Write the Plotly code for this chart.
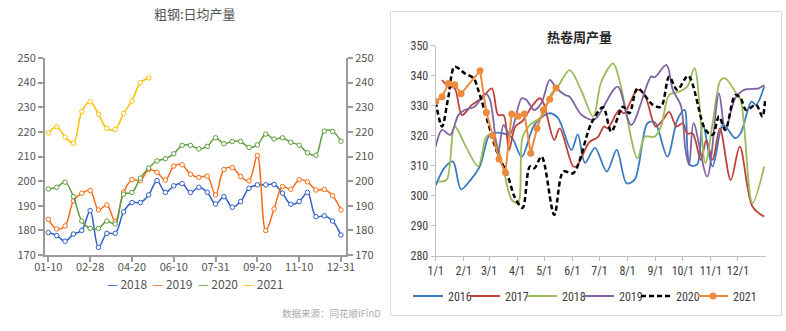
import plotly.graph_objects as go

# ---------------- Left chart data: 粗钢 日均产量 (dekad) ----------------
dekads = ["01-10", "01-20", "01-31", "02-10", "02-20", "02-28", "03-10", "03-20", "03-31",
          "04-10", "04-20", "04-30", "05-10", "05-20", "05-31", "06-10", "06-20", "06-30",
          "07-10", "07-20", "07-31", "08-10", "08-20", "08-31", "09-10", "09-20", "09-30",
          "10-10", "10-20", "10-31", "11-10", "11-20", "11-30", "12-10", "12-20", "12-31"]
left_ticks = ["01-10", "02-28", "04-20", "06-10", "07-31", "09-20", "11-10", "12-31"]

cs_2018 = [179.1, 177.9, 175.6, 178.5, 180.0, 188.0, 173.1, 178.8, 178.8, 187.5, 191.3, 191.3,
           194.4, 200.2, 195.4, 198.1, 199.0, 195.4, 197.5, 195.5, 190.7, 193.7, 189.4, 191.7,
           197.1, 198.5, 198.5, 198.7, 195.1, 190.6, 191.7, 195.4, 185.6, 185.9, 183.8, 178.1]
cs_2019 = [184.5, 180.6, 181.8, 192.0, 195.1, 196.2, 188.3, 190.3, 183.6, 195.5, 200.6, 200.2,
           204.7, 203.6, 200.4, 206.1, 206.6, 202.8, 201.5, 202.0, 194.4, 204.7, 205.5, 201.9,
           200.1, 210.4, 179.9, 188.7, 197.8, 196.7, 200.6, 199.7, 196.4, 196.6, 194.1, 188.3]
cs_2020 = [196.8, 197.5, 199.6, 193.7, 183.8, 180.8, 180.8, 183.8, 182.6, 194.7, 195.4, 201.2,
           205.3, 208.2, 209.1, 211.1, 214.5, 214.5, 213.1, 214.1, 217.6, 215.2, 216.1, 216.1,
           213.7, 214.7, 219.1, 217.1, 217.6, 215.8, 214.6, 211.5, 210.5, 220.3, 220.2, 216.2]
cs_2021 = [219.6, 222.1, 217.9, 215.4, 228.3, 232.2, 227.2, 221.4, 221.0, 227.5, 232.6, 240.0, 241.9]

left_names = ["2018", "2019", "2020", "2021"]
left_values = [cs_2018, cs_2019, cs_2020, cs_2021]
left_colors = ["#2f5fc4", "#f76b15", "#5f9e3f", "#ffc000"]

# ---------------- Right chart data: 热卷周产量 (weekly) ----------------
d2016 = ["01-01", "01-11", "01-20", "01-29", "02-09", "02-19", "03-02", "03-13", "03-26", "04-06",
         "04-20", "05-06", "05-16", "05-31", "06-07", "06-15", "06-26", "07-09", "07-20", "07-31",
         "08-09", "08-23", "08-31", "09-14", "09-25", "10-03", "10-09", "10-17", "10-23", "11-03",
         "11-14", "11-19", "11-28", "12-04", "12-16", "12-21", "12-30"]
v2016 = [303.5, 309.5, 311.5, 302.2, 305.5, 310.0, 320.5, 321.0, 319.5, 313.0,
         323.6, 327.5, 326.0, 315.3, 320.5, 311.0, 316.0, 308.1, 315.3, 304.2,
         305.5, 324.2, 324.5, 313.1, 325.3, 328.6, 310.3, 310.5, 324.2, 309.8,
         323.6, 322.5, 319.2, 320.9, 331.4, 330.3, 336.4]

d2017 = ["01-08", "01-15", "01-22", "01-30", "02-10", "02-21", "03-04", "03-11", "03-17", "03-23",
         "03-30", "04-07", "04-17", "04-26", "04-30", "05-12", "05-18", "06-02", "06-06", "06-20",
         "06-29", "07-06", "07-10", "07-23", "07-28", "08-12", "08-20", "09-01", "09-09", "09-16",
         "09-24", "10-01", "10-06", "10-12", "10-21", "10-27", "11-03", "11-11", "11-23", "12-03",
         "12-17", "12-30"]
v2017 = [338.6, 336.4, 335.8, 326.9, 330.3, 332.5, 335.8, 326.9, 326.9, 315.3,
         323.1, 325.0, 329.7, 332.5, 331.0, 318.6, 322.5, 309.8, 310.0, 318.0,
         319.5, 323.1, 322.5, 328.6, 327.5, 335.3, 333.6, 323.1, 325.3, 328.0,
         323.1, 324.2, 320.8, 320.8, 312.0, 318.6, 312.0, 322.5, 305.3, 316.4,
         296.5, 293.1]

d2018 = ["01-04", "01-13", "01-22", "02-04", "02-17", "02-26", "03-05", "03-16", "03-26", "04-02",
         "04-07", "04-15", "04-28", "05-09", "05-16", "05-29", "06-11", "06-24", "07-03", "07-16",
         "07-23", "08-12", "08-20", "08-31", "09-07", "09-16", "09-27", "10-06", "10-14", "10-26",
         "11-03", "11-12", "11-17", "11-28", "12-04", "12-17", "12-30"]
v2018 = [304.8, 305.3, 323.1, 316.0, 309.8, 319.7, 320.5, 310.0, 298.7, 297.6,
         319.7, 323.6, 326.4, 334.1, 336.4, 341.9, 335.0, 326.4, 338.0, 344.1,
         338.6, 312.5, 319.7, 319.7, 323.1, 333.6, 334.7, 336.4, 342.5, 310.9,
         324.2, 338.6, 339.1, 334.7, 331.9, 297.6, 309.8]

d2019 = ["01-01", "01-08", "01-17", "01-26", "02-02", "02-13", "02-25", "03-02", "03-11", "03-17",
         "03-24", "04-06", "04-11", "04-20", "04-28", "05-07", "05-14", "05-24", "05-29", "06-11",
         "06-24", "06-29", "07-21", "08-05", "08-27", "08-31", "09-13", "09-20", "09-29", "10-04",
         "10-08", "10-13", "10-28", "11-10", "11-17", "11-28", "12-08", "12-24", "12-30"]
v2019 = [316.4, 322.0, 320.3, 326.9, 328.6, 329.7, 334.1, 332.0, 314.2, 323.6,
         320.5, 332.5, 332.0, 328.6, 331.0, 338.6, 336.0, 333.6, 333.0, 327.0,
         325.3, 326.4, 336.4, 323.6, 339.7, 339.5, 343.6, 335.3, 330.0, 315.3,
         310.3, 324.2, 306.4, 334.1, 322.0, 332.5, 335.3, 335.8, 336.9]

d2020 = ["01-01", "01-08", "01-15", "01-22", "02-02", "02-12", "02-17", "02-28", "03-09", "03-22",
         "03-29", "04-07", "04-15", "04-20", "04-28", "05-12", "05-22", "06-02", "06-22", "07-05",
         "07-14", "07-27", "08-03", "08-12", "08-29", "09-07", "09-16", "09-25", "10-07", "10-26",
         "11-03", "11-10", "11-17", "11-28", "12-04", "12-10", "12-21", "12-28", "12-31"]
v2020 = [331.4, 323.1, 333.0, 343.0, 340.8, 339.1, 335.3, 324.2, 315.3, 306.4,
         299.8, 296.0, 309.8, 309.2, 313.1, 293.7, 308.1, 307.6, 324.2, 329.5,
         321.4, 329.7, 327.5, 335.8, 330.3, 329.7, 339.7, 335.3, 340.0, 322.0,
         320.3, 326.4, 322.0, 333.6, 332.5, 328.6, 330.3, 326.4, 331.9]

d2021 = ["01-01", "01-08", "01-15", "01-22", "01-29", "02-19", "02-26", "03-05", "03-12", "03-19",
         "03-26", "04-02", "04-09", "04-16", "04-23", "04-30", "05-07", "05-14"]
v2021 = [331.4, 333.0, 337.4, 337.0, 334.0, 341.7, 327.8, 320.0, 312.3, 307.8,
         327.3, 326.5, 327.3, 314.2, 322.5, 328.6, 332.2, 335.9]

month_ticks = ["01-01", "02-01", "03-01", "04-01", "05-01", "06-01",
               "07-01", "08-01", "09-01", "10-01", "11-01", "12-01"]
month_labels = ["1/1", "2/1", "3/1", "4/1", "5/1", "6/1", "7/1", "8/1", "9/1", "10/1", "11/1", "12/1"]

right_names = ["2016", "2017", "2018", "2019", "2020", "2021"]
right_dates = [d2016, d2017, d2018, d2019, d2020, d2021]
right_values = [v2016, v2017, v2018, v2019, v2020, v2021]
right_colors = ["#3a7abf", "#c0403c", "#9bbb59", "#8064a2", "#000000", "#ee8a3c"]

BASE = "2021-"

fig = go.Figure()

# Left traces
for name, vals, col in zip(left_names, left_values, left_colors):
    fig.add_trace(go.Scatter(
        x=dekads[:len(vals)], y=vals, name=name, mode="lines+markers",
        line=dict(color=col, width=1.5, shape="spline", smoothing=1.0),
        marker=dict(symbol="circle", size=4.5, color="white", line=dict(color=col, width=1)),
        xaxis="x", yaxis="y", showlegend=False, hoverinfo="skip"))
# invisible trace to show the right-hand mirrored axis
fig.add_trace(go.Scatter(x=dekads, y=cs_2018, mode="lines", line=dict(width=0, color="rgba(0,0,0,0)"),
                         xaxis="x", yaxis="y3", showlegend=False, hoverinfo="skip"))

# Right traces
for name, ds, vals, col in zip(right_names, right_dates, right_values, right_colors):
    xs = [BASE + d for d in ds]
    if name == "2021":
        fig.add_trace(go.Scatter(
            x=xs, y=vals, name=name, mode="lines+markers",
            line=dict(color=col, width=2),
            marker=dict(size=7, color=col),
            xaxis="x2", yaxis="y2", hoverinfo="skip"))
    elif name == "2020":
        fig.add_trace(go.Scatter(
            x=xs, y=vals, name=name, mode="lines",
            line=dict(color=col, width=2.5, dash="5px,3px", shape="spline", smoothing=0.9),
            xaxis="x2", yaxis="y2", hoverinfo="skip"))
    else:
        fig.add_trace(go.Scatter(
            x=xs, y=vals, name=name, mode="lines",
            line=dict(color=col, width=1.8, shape="spline", smoothing=0.9),
            xaxis="x2", yaxis="y2", hoverinfo="skip"))
# empty spacer entry so the last legend label is not clipped
fig.add_trace(go.Scatter(x=[None], y=[None], name=" ", mode="lines",
                         line=dict(width=0, color="rgba(0,0,0,0)"),
                         xaxis="x2", yaxis="y2", hoverinfo="skip"))

W, H = 786, 331
def px_x(v):
    return v / W
def px_y(v):
    return (H - v) / H

axis_gray = "#9a9a9a"
lfont = dict(family="Noto Sans CJK SC, sans-serif", size=11, color="#555555")
rfont = dict(family="Liberation Sans Narrow, Roboto Condensed, Liberation Sans, sans-serif", size=12, color="#404040")

fig.update_layout(
    width=W, height=H, margin=dict(l=0, r=0, t=0, b=0, autoexpand=False),
    paper_bgcolor="white", plot_bgcolor="white",
    showlegend=True,
    xaxis=dict(domain=[px_x(45), px_x(346)], anchor="y", type="category",
               categoryorder="array", categoryarray=dekads,
               range=[-0.4, 35.6], tickmode="array", tickvals=left_ticks,
               showgrid=False, zeroline=False, showline=True, linecolor=axis_gray, linewidth=2,
               ticks="outside", ticklen=5, tickcolor=axis_gray, tickwidth=1.5, tickfont=lfont,
               ticklabelstandoff=-4),
    yaxis=dict(domain=[px_y(255), px_y(58)], anchor="x", range=[170, 250], dtick=10,
               showgrid=False, zeroline=False, showline=True, linecolor=axis_gray, linewidth=2,
               ticks="outside", ticklen=5, tickcolor=axis_gray, tickwidth=1.5, tickfont=lfont),
    yaxis3=dict(overlaying="y", side="right", anchor="x", range=[170, 250], dtick=10,
                showgrid=False, zeroline=False, showline=True, linecolor=axis_gray, linewidth=2,
                ticks="outside", ticklen=5, tickcolor=axis_gray, tickwidth=1.5, tickfont=lfont),
    xaxis2=dict(domain=[px_x(435.7), px_x(766)], anchor="y2", type="date",
                range=["2021-01-01", "2022-01-01"], tickmode="array",
                tickvals=[BASE + m for m in month_ticks], ticktext=month_labels,
                showgrid=False, zeroline=False, showline=True, linecolor="#bfbfbf", linewidth=1,
                ticks="outside", ticklen=4, tickcolor="#bfbfbf", tickfont=rfont),
    yaxis2=dict(domain=[px_y(256), px_y(45.7)], anchor="x2", range=[280, 350], dtick=10,
                showgrid=False, zeroline=False, showline=True, linecolor="#bfbfbf", linewidth=1,
                ticks="outside", ticklen=4, tickcolor="#bfbfbf", tickfont=rfont),
    legend=dict(orientation="h", x=px_x(408), xanchor="left", y=px_y(296), yanchor="middle",
                font=rfont, entrywidth=12, itemwidth=30, bgcolor="rgba(0,0,0,0)",
                tracegroupgap=0),
    shapes=[dict(type="rect", xref="paper", yref="paper",
                 x0=px_x(390.5), x1=px_x(781.5), y0=px_y(315.5), y1=px_y(11.5),
                 line=dict(color="#d9d9d9", width=1), fillcolor="rgba(0,0,0,0)", layer="below")],
)

legend_left = "&nbsp;&nbsp;".join(
    f"<span style='color:{c}'>—</span> {n}" for n, c in zip(left_names, left_colors))

fig.add_annotation(text="粗钢:日均产量", xref="paper", yref="paper", x=px_x(195), y=px_y(14),
                   xanchor="center", yanchor="middle", showarrow=False,
                   font=dict(family="Noto Sans CJK SC, sans-serif", size=13, color="#555555"))
fig.add_annotation(text=legend_left, xref="paper", yref="paper", x=px_x(195), y=px_y(283),
                   xanchor="center", yanchor="middle", showarrow=False,
                   font=dict(family="Noto Sans CJK SC, sans-serif", size=12, color="#555555"))
fig.add_annotation(text="数据来源：同花顺iFinD", xref="paper", yref="paper", x=px_x(383), y=px_y(313),
                   xanchor="right", yanchor="middle", showarrow=False,
                   font=dict(family="Noto Sans CJK SC, sans-serif", size=9.5, color="#aaaaaa"))
fig.add_annotation(text="<b>热卷周产量</b>", xref="paper", yref="paper", x=px_x(579), y=px_y(37),
                   xanchor="center", yanchor="middle", showarrow=False,
                   font=dict(family="Noto Sans CJK SC, sans-serif", size=13, color="#262626"))

fig.write_html("out.html")
